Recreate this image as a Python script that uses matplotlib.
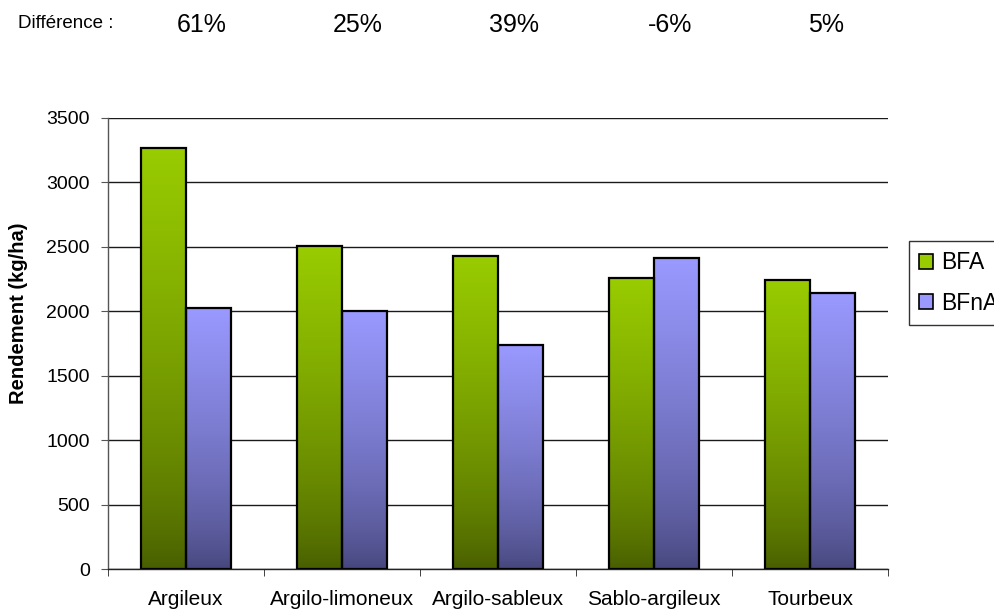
import numpy as np
import matplotlib
matplotlib.use("Agg")
import matplotlib.pyplot as plt
from matplotlib.colors import to_rgb
from matplotlib.patches import Patch

plt.rcParams['font.family'] = ['Liberation Sans', 'DejaVu Sans']

# data
categories = ["Argileux", "Argilo-limoneux", "Argilo-sableux", "Sablo-argileux", "Tourbeux"]
bfa = [3270, 2505, 2430, 2255, 2245]
bfna = [2025, 2000, 1735, 2410, 2140]
differences = ["61%", "25%", "39%", "-6%", "5%"]
series_names = ["BFA", "BFnA"]

# gradient colours (top -> bottom of each bar)
top_colors = ["#99CC00", "#9999FF"]
bottom_colors = ["#475C00", "#45457A"]

fig = plt.figure(figsize=(9.95, 6.1), dpi=100)
ax = fig.add_axes([0.1085, 0.0672, 0.784, 0.7394])

x = np.arange(len(categories))
width = 1 / 3.5


def gradient_bar(ax, xc, h, top, bottom):
    t = np.linspace(0, 1, 256) ** 0.7  # 0 at bottom, 1 at top
    c_top = np.array(to_rgb(top))
    c_bot = np.array(to_rgb(bottom))
    img = c_bot[None, :] + (c_top - c_bot)[None, :] * t[:, None]
    img = img[:, None, :]
    ax.imshow(img, origin='lower', aspect='auto', interpolation='bilinear',
              extent=[xc - width / 2, xc + width / 2, 0, h], zorder=2)


for i, vals in enumerate([bfa, bfna]):
    offs = x + (i - 0.5) * width
    for xc, h in zip(offs, vals):
        gradient_bar(ax, xc, h, top_colors[i], bottom_colors[i])
    ax.bar(offs, vals, width=width, facecolor='none', edgecolor='black',
           linewidth=1.6, zorder=3)

ax.set_xlim(-0.5, len(categories) - 0.5)
ax.set_ylim(0, 3500)
ax.set_yticks(np.arange(0, 3501, 500))

# gridlines
ax.set_axisbelow(True)
ax.yaxis.grid(True, color='#1a1a1a', linewidth=1.0)
ax.xaxis.grid(False)

for s in ['top', 'right']:
    ax.spines[s].set_visible(False)
ax.spines['left'].set_color('#555555')
ax.spines['bottom'].set_color('#222222')
ax.spines['left'].set_linewidth(1.0)
ax.spines['bottom'].set_linewidth(1.0)

# category labels centred, ticks at the boundaries
ax.set_xticks(x)
ax.set_xticklabels(categories, fontsize=15)
ax.tick_params(axis='x', which='major', length=0, pad=15)
ax.set_xticks(np.arange(-0.5, len(categories)), minor=True)
ax.tick_params(axis='x', which='minor', length=5, direction='out', color='#222222')
ax.tick_params(axis='y', length=5, direction='out', labelsize=14, pad=8, color='#555555')

ax.set_ylabel("Rendement (kg/ha)", fontsize=14.5, fontweight='bold')
ax.yaxis.set_label_coords(-0.1026, 0.568)

# legend, partly cut off at the right edge like the original
handles = [Patch(facecolor=top_colors[i], edgecolor='black', linewidth=1.2)
           for i in range(2)]
leg = fig.legend(handles, series_names, loc='upper left',
                 bbox_to_anchor=(909 / 995, 1 - 241 / 610), fontsize=16.5,
                 frameon=True, fancybox=False, handlelength=0.6, handleheight=0.6,
                 handletextpad=0.35, labelspacing=0.75, borderpad=0.45,
                 borderaxespad=0)
leg.get_frame().set_edgecolor('black')
leg.get_frame().set_linewidth(1.0)

# difference row at the top
fig.text(18 / 995, 1 - 23 / 610, "Différence :", fontsize=13.5, va='center', ha='left')
for i, d in enumerate(differences):
    xd = ax.transData.transform((x[i] + 0.1, 0))[0] / fig.bbox.width
    fig.text(xd, 1 - 25 / 610, d, fontsize=18, va='center', ha='center')

fig.savefig("out.png", dpi=100)
